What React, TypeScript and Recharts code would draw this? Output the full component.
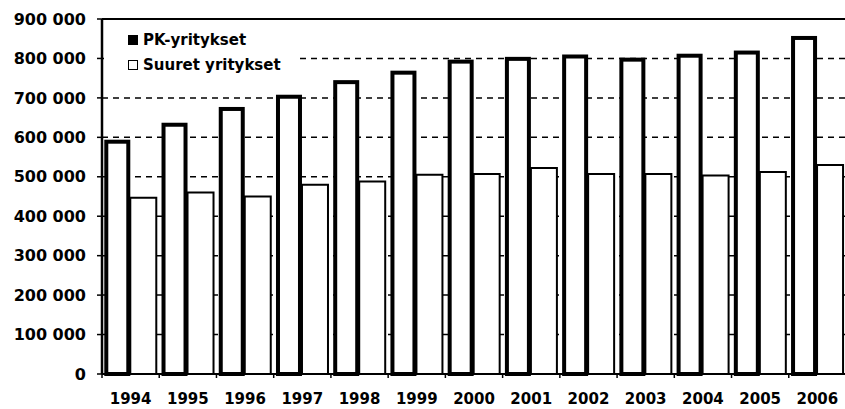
import React from 'react'
import { BarChart, Bar, XAxis, YAxis, CartesianGrid, Legend, ReferenceLine } from 'recharts'

// Yritysten lukumäärät vuosittain
const years = ['1994', '1995', '1996', '1997', '1998', '1999', '2000', '2001', '2002', '2003', '2004', '2005', '2006']
const pkValues = [594000, 637000, 677000, 708000, 745000, 769000, 797000, 804000, 810000, 802000, 812000, 820000, 857000]
const suuretValues = [447000, 460000, 450000, 480000, 488000, 505000, 507000, 522000, 507000, 507000, 503000, 512000, 530000]
const yTicks = [0, 100000, 200000, 300000, 400000, 500000, 600000, 700000, 800000, 900000]

const data = years.map((year, i) => ({
  year,
  pk: pkValues[i],
  suuret: suuretValues[i],
}))

const FONT = '"DejaVu Sans", sans-serif'

const formatThousands = (n: number) => n.toString().replace(/\B(?=(\d{3})+(?!\d))/g, ' ')

// thick outline kept inside the bar so the neighbour doesn't cover it
const PkShape = (props: any) => {
  const { x, y, width, height } = props
  const sw = 4
  return (
    <rect
      x={x + sw / 2}
      y={y + sw / 2}
      width={Math.max(width - sw, 0)}
      height={Math.max(height - sw / 2, 0)}
      fill="#fff"
      stroke="#000"
      strokeWidth={sw}
    />
  )
}

const TICK_SIZE = 6
const TICK_MARGIN = 13

const YearTick = (props: any) => {
  const { x, y, payload } = props
  const axisY = y - TICK_SIZE - TICK_MARGIN
  const left = x - (payload.offset || 0)
  return (
    <g>
      <line x1={left} y1={axisY} x2={left} y2={axisY + 4} stroke="#000" strokeWidth={1.5} />
      <text x={x} y={y} dy="0.71em" textAnchor="middle" fill="#000" fontSize={15} fontWeight="bold" fontFamily={FONT}>
        {payload.value}
      </text>
    </g>
  )
}

// legend box has a white fill, so it hides the grid line behind it
const renderLegend = () => (
  <div
    style={{
      fontFamily: FONT,
      fontSize: 15,
      fontWeight: 'bold',
      color: '#000',
      background: '#fff',
      padding: '3px 14px 4px 24px',
    }}
  >
    <div style={{ display: 'flex', alignItems: 'center', height: 25 }}>
      <span style={{ width: 10, height: 10, background: '#000', marginRight: 5 }} />
      <span>PK-yritykset</span>
    </div>
    <div style={{ display: 'flex', alignItems: 'center', height: 25 }}>
      <span style={{ width: 8, height: 8, border: '1.5px solid #000', background: '#fff', marginRight: 5 }} />
      <span>Suuret yritykset</span>
    </div>
  </div>
)

export default function App() {
  return (
    <div
      style={{
        position: 'fixed',
        top: 0,
        left: 0,
        width: 845,
        height: 409,
        overflow: 'hidden',
        background: '#fff',
        fontFamily: FONT,
      }}
    >
      <BarChart
        width={846}
        height={409}
        data={data}
        margin={{ top: 19, right: 0, left: 0, bottom: 5 }}
        barCategoryGap="4%"
        barGap={0}
      >
        <CartesianGrid vertical={false} stroke="#000" strokeWidth={1.5} strokeDasharray="6 5" />
        <XAxis
          dataKey="year"
          height={30}
          axisLine={{ stroke: '#000', strokeWidth: 2 }}
          tickLine={false}
          tickSize={TICK_SIZE}
          tickMargin={TICK_MARGIN}
          tick={<YearTick />}
          interval={0}
        />
        <YAxis
          width={102}
          domain={[0, 900000]}
          ticks={yTicks}
          interval={0}
          tickFormatter={formatThousands}
          axisLine={{ stroke: '#000', strokeWidth: 2.5 }}
          tickLine={{ stroke: '#000', strokeWidth: 1.5 }}
          tickSize={5}
          tickMargin={11}
          tick={{ fill: '#000', fontSize: 16, fontWeight: 'bold', fontFamily: FONT }}
        />
        <ReferenceLine y={900000} stroke="#000" strokeWidth={2} />
        <Legend
          layout="vertical"
          align="center"
          verticalAlign="middle"
          content={renderLegend}
          wrapperStyle={{ top: 24, left: 104, width: 'auto', height: 'auto' }}
        />
        <Bar dataKey="pk" name="PK-yritykset" fill="#fff" shape={<PkShape />} isAnimationActive={false} />
        <Bar dataKey="suuret" name="Suuret yritykset" fill="#fff" stroke="#000" strokeWidth={2} isAnimationActive={false} />
      </BarChart>
    </div>
  )
}
